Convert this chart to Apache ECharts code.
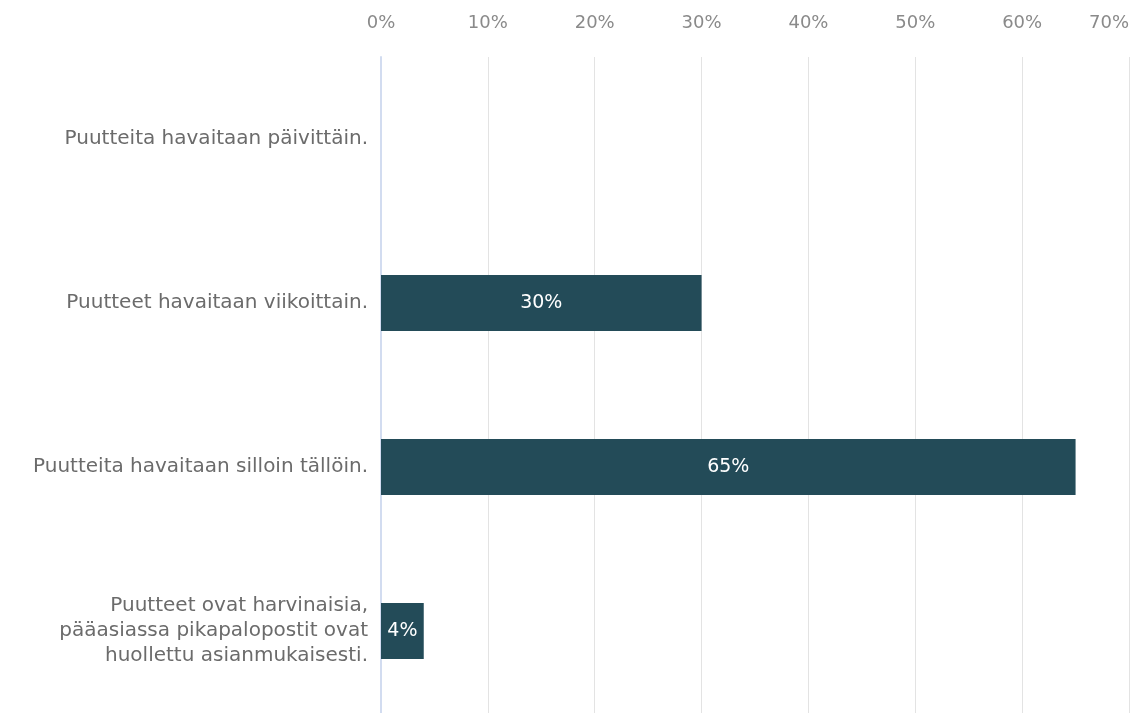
<!DOCTYPE html>
<html>
<head>
<meta charset="utf-8">
<script src="https://cdn.jsdelivr.net/npm/echarts@6/dist/echarts.min.js"></script>
<style>
  html, body { margin: 0; padding: 0; background: #fff; }
  #chart { width: 1137px; height: 713px; }
</style>
</head>
<body>
<div id="chart"></div>
<script>
// vastausvaihtoehdot ylhäältä alas
const categories = [
    'Puutteita havaitaan päivittäin.',
    'Puutteet havaitaan viikoittain.',
    'Puutteita havaitaan silloin tällöin.',
    'Puutteet ovat harvinaisia,\npääasiassa pikapalopostit ovat\nhuollettu asianmukaisesti.'
]
const shares = [0, 30, 65, 4]
const ticks = [0, 10, 20, 30, 40, 50, 60, 70]

const font = 'DejaVu Sans, Liberation Sans, sans-serif'
const chart = echarts.init(document.getElementById('chart'))

chart.setOption({
    animation: false,
    grid: { left: 381, right: 8, top: 57, height: 660, containLabel: false },
    xAxis: {
        type: 'value',
        position: 'top',
        min: ticks[0],
        max: ticks[ticks.length - 1],
        interval: 10,
        axisLine: { show: false },
        axisTick: { show: false },
        axisLabel: {
            formatter: '{value}%',
            color: '#8a8a8a',
            fontSize: 18,
            fontFamily: font,
            margin: 25,
            alignMaxLabel: 'right'
        },
        splitLine: { lineStyle: { color: '#e3e3e3', width: 1 } }
    },
    yAxis: {
        type: 'category',
        inverse: true,
        data: categories,
        axisLine: { show: true, lineStyle: { color: '#d2dcf0', width: 2 } },
        axisTick: { show: false },
        axisLabel: {
            color: '#6b6b6b',
            fontSize: 20,
            lineHeight: 25,
            align: 'right',
            margin: 13,
            fontFamily: font
        }
    },
    series: [{
        type: 'bar',
        data: shares,
        barWidth: 56,
        itemStyle: { color: '#234b58' },
        label: {
            show: true,
            position: 'inside',
            color: '#fff',
            fontSize: 19,
            fontFamily: font,
            formatter: p => p.value > 0 ? p.value + '%' : ''
        }
    }]
})
</script>
</body>
</html>
